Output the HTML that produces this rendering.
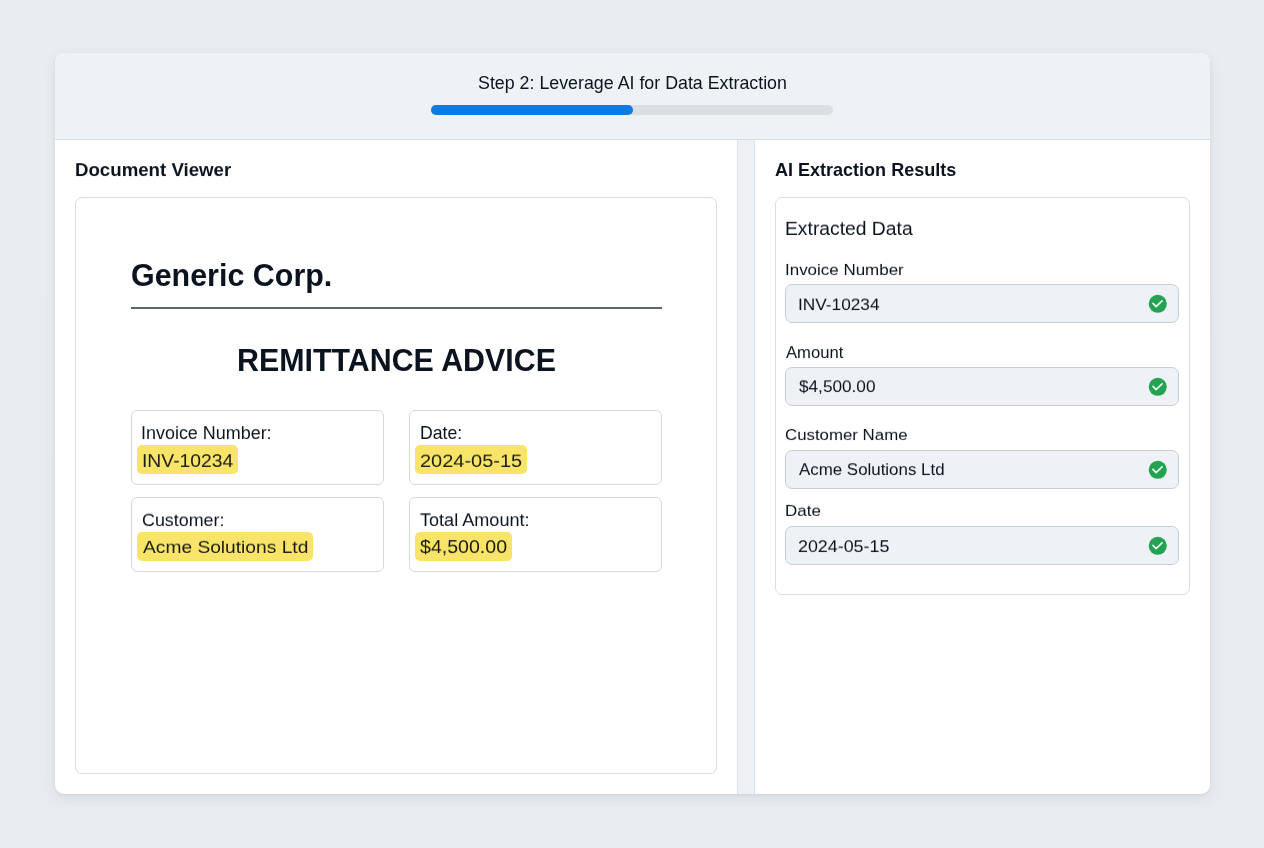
<!DOCTYPE html>
<html><head><meta charset="utf-8">
<style>
*{box-sizing:border-box;margin:0;padding:0}
html,body{width:1264px;height:848px;overflow:hidden}
body{font-family:"Liberation Sans",sans-serif;color:#0b131f;background:linear-gradient(180deg,#e9edf0 0%,#e8ecef 100%);position:relative}
.abs{position:absolute}
#t_v1,#t_v2,#t_v3,#t_v4{color:#1b1b12}
.t{will-change:transform;position:absolute;white-space:nowrap;line-height:1;transform-origin:0 84.65%}
#card{left:55px;top:53.2px;width:1155px;height:741px;background:#fff;border-radius:9px;box-shadow:0 4px 14px rgba(40,55,75,.09),0 1px 3px rgba(40,55,75,.07);overflow:hidden}
#hdr{left:0;top:0;width:1155px;height:87px;background:#eef2f5;border-bottom:1px solid #d8dde3}
#divider{left:682px;top:87px;width:18px;height:655px;background:#edf1f6;border-left:1px solid #dee2e7;border-right:1px solid #dee2e7}
#bar{left:431px;top:105px;width:402px;height:10px;border-radius:5px;background:#dadfe5}
#fill{left:431px;top:105px;width:202px;height:10px;border-radius:5px;background:#0f7be0}
#doc{left:75px;top:197px;width:642px;height:577px;border:1px solid #dbdfe3;border-radius:7px;background:#fff}
#res{left:775px;top:197px;width:415px;height:398px;border:1px solid #dbdfe3;border-radius:7px;background:#fff}
.fb{position:absolute;border:1px solid #d5d9de;border-radius:6px;background:#fff;width:253px;height:75px}
.hl{position:absolute;background:#f8e468;border-radius:5px;height:29px}
.inp{position:absolute;left:785px;width:394px;height:39px;background:#eef1f5;border:1px solid #c9ced6;border-radius:7px}
.chk{position:absolute;left:1147px;width:22px;height:22px}
#hr{left:131px;top:307px;width:531px;height:2px;background:#5d646b}
</style></head><body>
<div id="card" class="abs">
  <div id="hdr" class="abs"></div>
  <div id="divider" class="abs"></div>
</div>
<div id="bar" class="abs"></div><div id="fill" class="abs"></div>
<div id="doc" class="abs"></div>
<div id="res" class="abs"></div>
<div id="hr" class="abs"></div>

<div class="fb" style="left:131px;top:410px"></div>
<div class="fb" style="left:409px;top:410px"></div>
<div class="fb" style="left:131px;top:497px"></div>
<div class="fb" style="left:409px;top:497px"></div>

<div class="hl" style="left:137.1px;top:445.1px;width:101.2px"></div>
<div class="hl" style="left:415px;top:445.1px;width:111.8px"></div>
<div class="hl" style="left:137.1px;top:532.2px;width:176.3px"></div>
<div class="hl" style="left:415px;top:532.2px;width:97.3px"></div>

<div class="inp" style="top:284px"></div>
<div class="inp" style="top:367px"></div>
<div class="inp" style="top:450px"></div>
<div class="inp" style="top:526px"></div>




<span class="t" id="t_title" style="left:478.21px;top:75.06px;font-size:17.82px;transform:scaleY(1.036)">Step 2: Leverage AI for Data Extraction</span>
<span class="t" id="t_dv" style="left:74.83px;top:160.60px;font-size:18.66px;transform:scaleY(0.989);font-weight:bold">Document Viewer</span>
<span class="t" id="t_ai" style="left:775.02px;top:160.86px;font-size:18.03px;transform:scaleY(1.000);font-weight:bold">AI Extraction Results</span>
<span class="t" id="t_gc" style="left:131.42px;top:259.83px;font-size:30.44px;transform:scaleY(1.041);font-weight:bold">Generic Corp.</span>
<span class="t" id="t_ra" style="left:237.13px;top:345.44px;font-size:30.38px;transform:scaleY(1.043);font-weight:bold">REMITTANCE ADVICE</span>
<span class="t" id="t_l1" style="left:141.25px;top:425.27px;font-size:17.96px;transform:scaleY(0.987)">Invoice Number:</span>
<span class="t" id="t_l2" style="left:419.66px;top:424.61px;font-size:17.66px;transform:scaleY(1.004)">Date:</span>
<span class="t" id="t_l3" style="left:142.45px;top:511.99px;font-size:17.88px;transform:scaleY(0.951)">Customer:</span>
<span class="t" id="t_l4" style="left:420.08px;top:510.93px;font-size:18.09px;transform:scaleY(0.972)">Total Amount:</span>
<span class="t" id="t_v1" style="left:141.67px;top:451.17px;font-size:19.34px;transform:scaleY(0.917)">INV-10234</span>
<span class="t" id="t_v2" style="left:420.28px;top:450.49px;font-size:19.98px;transform:scaleY(0.888)">2024-05-15</span>
<span class="t" id="t_v3" style="left:143.05px;top:536.81px;font-size:19.20px;transform:scaleY(0.939)">Acme Solutions Ltd</span>
<span class="t" id="t_v4" style="left:420.33px;top:537.49px;font-size:19.57px;transform:scaleY(0.921)">$4,500.00</span>
<span class="t" id="t_ed" style="left:784.73px;top:219.41px;font-size:19.31px;transform:scaleY(0.948)">Extracted Data</span>
<span class="t" id="t_r1" style="left:784.98px;top:261.65px;font-size:16.97px;transform:scaleY(0.933)">Invoice Number</span>
<span class="t" id="t_r2" style="left:786.20px;top:345.43px;font-size:16.62px;transform:scaleY(0.988)">Amount</span>
<span class="t" id="t_r3" style="left:784.77px;top:427.06px;font-size:16.84px;transform:scaleY(0.924)">Customer Name</span>
<span class="t" id="t_r4" style="left:784.76px;top:502.18px;font-size:16.98px;transform:scaleY(0.933)">Date</span>
<span class="t" id="t_i1" style="left:797.76px;top:295.68px;font-size:17.25px;transform:scaleY(0.952)">INV-10234</span>
<span class="t" id="t_i2" style="left:799.47px;top:378.43px;font-size:17.19px;transform:scaleY(0.973)">$4,500.00</span>
<span class="t" id="t_i3" style="left:798.77px;top:461.85px;font-size:16.90px;transform:scaleY(0.981)">Acme Solutions Ltd</span>
<span class="t" id="t_i4" style="left:798.12px;top:538.28px;font-size:17.88px;transform:scaleY(0.910)">2024-05-15</span>
<svg class="chk" style="top:293px" viewBox="0 0 22 22"><circle cx="10.76" cy="10.8" r="9.05" fill="#23a351"/><path d="M6.0 10.4 L9.1 13.65 L15.05 7.95" fill="none" stroke="#e9fcf0" stroke-width="1.7" stroke-linecap="round" stroke-linejoin="round"/></svg>
<svg class="chk" style="top:376px" viewBox="0 0 22 22"><circle cx="10.76" cy="10.8" r="9.05" fill="#23a351"/><path d="M6.0 10.4 L9.1 13.65 L15.05 7.95" fill="none" stroke="#e9fcf0" stroke-width="1.7" stroke-linecap="round" stroke-linejoin="round"/></svg>
<svg class="chk" style="top:459px" viewBox="0 0 22 22"><circle cx="10.76" cy="10.8" r="9.05" fill="#23a351"/><path d="M6.0 10.4 L9.1 13.65 L15.05 7.95" fill="none" stroke="#e9fcf0" stroke-width="1.7" stroke-linecap="round" stroke-linejoin="round"/></svg>
<svg class="chk" style="top:535px" viewBox="0 0 22 22"><circle cx="10.76" cy="10.8" r="9.05" fill="#23a351"/><path d="M6.0 10.4 L9.1 13.65 L15.05 7.95" fill="none" stroke="#e9fcf0" stroke-width="1.7" stroke-linecap="round" stroke-linejoin="round"/></svg>
</body></html>
